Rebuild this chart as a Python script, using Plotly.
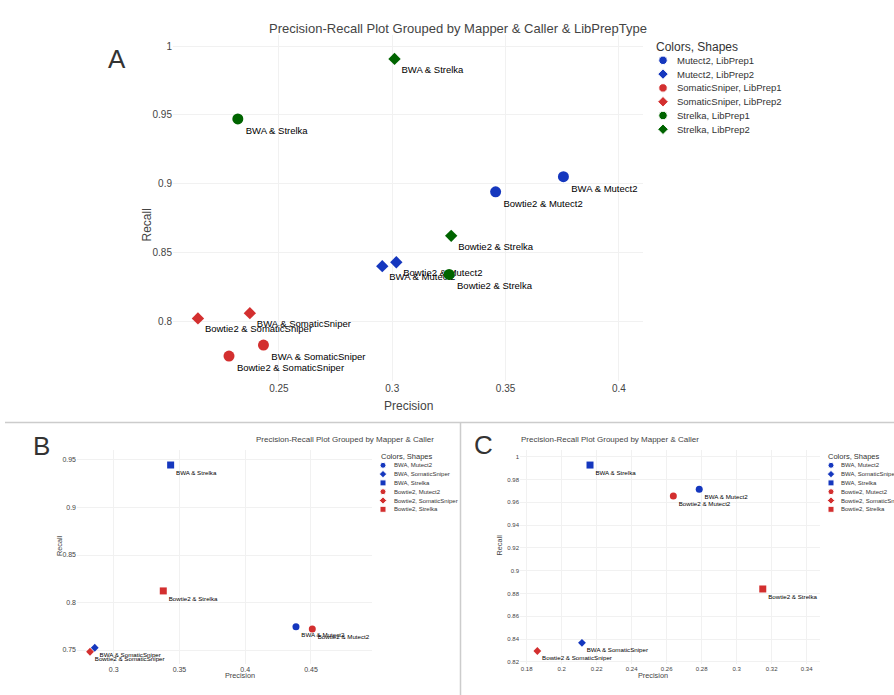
import plotly.graph_objects as go

W, H = 894, 695
FONT = "Arial, Liberation Sans, sans-serif"

# ---------------- Panel A: Mapper & Caller & LibPrepType ----------------
a_callers = ["Mutect2", "Mutect2", "Mutect2", "Mutect2",
             "SomaticSniper", "SomaticSniper", "SomaticSniper", "SomaticSniper",
             "Strelka", "Strelka", "Strelka", "Strelka"]
a_libprep = ["LibPrep1", "LibPrep1", "LibPrep2", "LibPrep2",
             "LibPrep1", "LibPrep1", "LibPrep2", "LibPrep2",
             "LibPrep1", "LibPrep1", "LibPrep2", "LibPrep2"]
a_mappers = ["BWA", "Bowtie2", "BWA", "Bowtie2",
             "BWA", "Bowtie2", "BWA", "Bowtie2",
             "BWA", "Bowtie2", "BWA", "Bowtie2"]
a_precision = [0.3755, 0.3456, 0.2956, 0.3018,
               0.2432, 0.2280, 0.2372, 0.2143,
               0.2319, 0.3251, 0.3010, 0.3260]
a_recall = [0.9050, 0.8940, 0.8400, 0.8428,
            0.7826, 0.7746, 0.8058, 0.8020,
            0.9470, 0.8340, 0.9906, 0.8620]

# ---------------- Panel B: Mapper & Caller ----------------
b_mappers = ["BWA", "BWA", "BWA", "Bowtie2", "Bowtie2", "Bowtie2"]
b_callers = ["Mutect2", "SomaticSniper", "Strelka", "Mutect2", "SomaticSniper", "Strelka"]
b_precision = [0.4386, 0.2856, 0.3433, 0.4510, 0.2820, 0.3377]
b_recall = [0.7745, 0.7524, 0.9447, 0.7721, 0.7482, 0.8122]

# ---------------- Panel C: Mapper & Caller ----------------
c_mappers = ["BWA", "BWA", "BWA", "Bowtie2", "Bowtie2", "Bowtie2"]
c_callers = ["Mutect2", "SomaticSniper", "Strelka", "Mutect2", "SomaticSniper", "Strelka"]
c_precision = [0.2786, 0.2116, 0.2162, 0.2638, 0.1861, 0.3149]
c_recall = [0.9714, 0.8368, 0.9927, 0.9655, 0.8296, 0.8840]

BLUE, RED, GREEN = "#1537be", "#d32f2f", "#006400"
caller_colors = {"Mutect2": BLUE, "SomaticSniper": RED, "Strelka": GREEN}
libprep_symbols = {"LibPrep1": "circle", "LibPrep2": "diamond"}
mapper_colors = {"BWA": BLUE, "Bowtie2": RED}
caller_symbols = {"Mutect2": "circle", "SomaticSniper": "diamond", "Strelka": "square"}


def px(x):
    return x / W


def py(y):
    return 1 - y / H


fig = go.Figure()

# Panel A points, one trace per (caller, libprep) group
a_groups = []
for c, l in zip(a_callers, a_libprep):
    if (c, l) not in a_groups:
        a_groups.append((c, l))
for c, l in a_groups:
    idx = [i for i in range(len(a_callers)) if a_callers[i] == c and a_libprep[i] == l]
    sym = libprep_symbols[l]
    fig.add_trace(go.Scatter(
        x=[a_precision[i] for i in idx], y=[a_recall[i] for i in idx],
        mode="markers+text",
        text=[f"{a_mappers[i]} & {a_callers[i]}" for i in idx],
        textposition="bottom right",
        textfont=dict(family=FONT, size=9.5, color="#000"),
        marker=dict(color=caller_colors[c], symbol=sym, size=11 if sym == "circle" else 9.5),
        name=f"{c}, {l}", showlegend=False, xaxis="x", yaxis="y",
    ))


def add_mc_panel(mappers, callers, prec, rec, xa, ya):
    for m, c, p, r in zip(mappers, callers, prec, rec):
        sym = caller_symbols[c]
        fig.add_trace(go.Scatter(
            x=[p], y=[r], mode="markers+text",
            text=[f"{m} & {c}"], textposition="bottom right",
            textfont=dict(family=FONT, size=6.2, color="#000"),
            marker=dict(color=mapper_colors[m], symbol=sym, size=6 if sym == "diamond" else 7),
            name=f"{m}, {c}", showlegend=False, xaxis=xa, yaxis=ya,
        ))


add_mc_panel(b_mappers, b_callers, b_precision, b_recall, "x2", "y2")
add_mc_panel(c_mappers, c_callers, c_precision, c_recall, "x3", "y3")

annotations = []


def legend_block(x0, y0, title, entries, title_size, item_size, dy, msize, text_dx, title_dx):
    # entries: list of (label, color, symbol)
    annotations.append(dict(x=x0 - title_dx, y=y0, xref="x4", yref="y4", text=title, showarrow=False,
                            xanchor="left", yanchor="middle",
                            font=dict(family=FONT, size=title_size, color="#333")))
    ys = [y0 + dy * (k + 1) for k in range(len(entries))]
    fig.add_trace(go.Scatter(
        x=[x0] * len(entries), y=ys, mode="markers",
        marker=dict(color=[e[1] for e in entries], symbol=[e[2] for e in entries],
                    size=[msize if e[2] != "diamond" else msize * 0.95 for e in entries],
                    opacity=1),
        showlegend=False, hoverinfo="skip", xaxis="x4", yaxis="y4",
    ))
    for (label, _, _), yy in zip(entries, ys):
        annotations.append(dict(x=x0 + text_dx, y=yy, xref="x4", yref="y4", text=label,
                                showarrow=False, xanchor="left", yanchor="middle",
                                font=dict(family=FONT, size=item_size, color="#333")))


legend_block(663, 46.5, "Colors, Shapes",
             [(f"{c}, {l}", caller_colors[c], libprep_symbols[l]) for c, l in a_groups],
             12, 9.5, 13.8, 8.5, 11.5, 9)

mc_entries = []
for m, c in zip(b_mappers, b_callers):
    mc_entries.append((f"{m}, {c}", mapper_colors[m], caller_symbols[c]))
legend_block(383, 456.5, "Colors, Shapes", mc_entries, 7.5, 6, 8.8, 6, 8.5, 4.5)
legend_block(831, 456.5, "Colors, Shapes", mc_entries, 7.5, 6, 8.8, 6, 7.5, 5)

# Titles
annotations += [
    dict(x=px(458), y=py(19), text="Precision-Recall Plot Grouped by Mapper & Caller & LibPrepType",
         font=dict(family=FONT, size=13, color="#444")),
    dict(x=px(254), y=py(440), text="Precision-Recall Plot Grouped by Mapper & Caller",
         font=dict(family=FONT, size=8, color="#444")),
    dict(x=px(701), y=py(440), text="Precision-Recall Plot Grouped by Mapper & Caller",
         font=dict(family=FONT, size=8, color="#444")),
    # axis titles
    dict(x=px(408), y=py(406), text="Precision", font=dict(family=FONT, size=12, color="#444")),
    dict(x=px(138), y=py(207), text="Recall", textangle=-90, font=dict(family=FONT, size=12, color="#444")),
    dict(x=px(223), y=py(682), text="Precision", font=dict(family=FONT, size=7.3, color="#444")),
    dict(x=px(53), y=py(558), text="Recall", textangle=-90, font=dict(family=FONT, size=7.3, color="#444")),
    dict(x=px(670), y=py(682), text="Precision", font=dict(family=FONT, size=7.3, color="#444")),
    dict(x=px(499), y=py(558), text="Recall", textangle=-90, font=dict(family=FONT, size=7.3, color="#444")),
    # panel letters
    dict(x=px(106), y=py(42), text="A", font=dict(family=FONT, size=26, color="#333")),
    dict(x=px(31), y=py(446), text="B", font=dict(family=FONT, size=26, color="#333")),
    dict(x=px(484), y=py(445), text="C", font=dict(family=FONT, size=26, color="#333")),
]
for a in annotations:
    a.setdefault("xref", "paper")
    a.setdefault("yref", "paper")
    a.setdefault("showarrow", False)

GRID = "#f1f1f1"


def axis(domain, rng, dtick, size, anchor):
    return dict(domain=domain, range=rng, dtick=dtick, anchor=anchor,
                showgrid=True, gridcolor=GRID, gridwidth=1, zeroline=False,
                showline=False, ticks="", tickfont=dict(family=FONT, size=size, color="#444"))


fig.update_layout(
    width=W, height=H, margin=dict(l=0, r=0, t=0, b=0),
    paper_bgcolor="white", plot_bgcolor="rgba(0,0,0,0)", showlegend=False,
    hovermode=False,
    xaxis=axis([px(173), px(643)], [0.2033, 0.4106], 0.05, 10, "y"),
    yaxis=axis([py(381), py(35)], [0.7565, 1.008], 0.05, 10, "x"),
    xaxis2=axis([px(77), px(372)], [0.2721, 0.4964], 0.05, 7, "y2"),
    yaxis2=axis([py(664), py(450)], [0.7353, 0.9605], 0.05, 7, "x2"),
    xaxis3=axis([px(520), px(820)], [0.1762, 0.3476], 0.02, 6, "y3"),
    yaxis3=axis([py(664), py(450)], [0.8182, 1.0059], 0.02, 6, "x3"),
    xaxis4=dict(domain=[0, 1], range=[0, W], visible=False, fixedrange=True, anchor="y4"),
    yaxis4=dict(domain=[0, 1], range=[H, 0], visible=False, fixedrange=True, anchor="x4"),
    annotations=annotations,
    shapes=[
        dict(type="line", xref="paper", yref="paper", x0=px(5), x1=1, y0=py(422.5), y1=py(422.5),
             line=dict(color="#cccccc", width=1.5)),
        dict(type="line", xref="paper", yref="paper", x0=px(460.5), x1=px(460.5), y0=0, y1=py(422.5),
             line=dict(color="#cccccc", width=1.5)),
    ],
)

fig.write_html("out.html")
